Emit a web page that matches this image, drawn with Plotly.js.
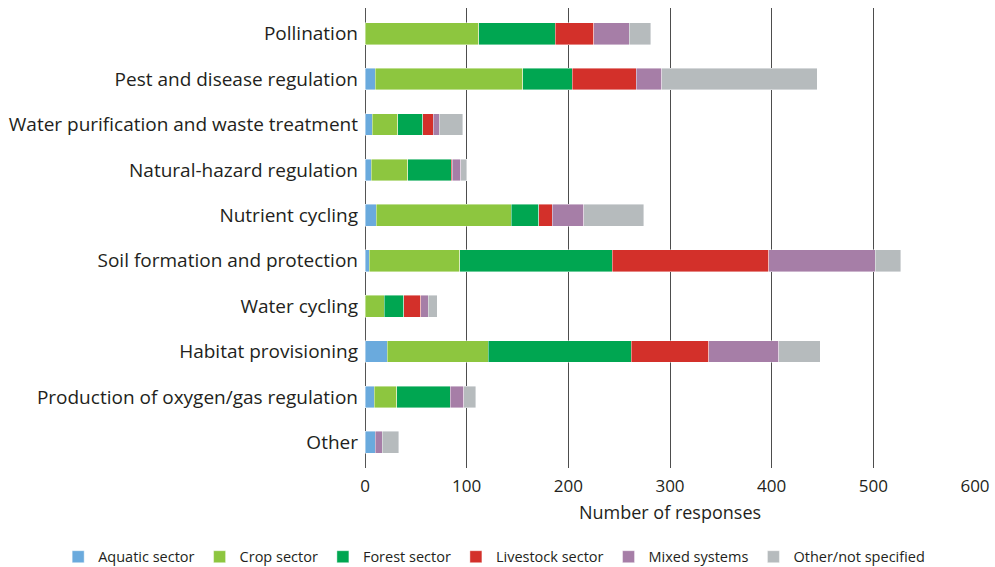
<!DOCTYPE html>
<html>
<head>
<meta charset="utf-8">
<script src="https://cdn.plot.ly/plotly-3.0.1.min.js"></script>
<style>html,body{margin:0;padding:0;background:#fff;}#chart{width:995px;height:567px;}</style>
</head>
<body>
<div id="chart"></div>
<script>
const categories = [
  "Pollination",
  "Pest and disease regulation",
  "Water purification and waste treatment",
  "Natural-hazard regulation",
  "Nutrient cycling",
  "Soil formation and protection",
  "Water cycling",
  "Habitat provisioning",
  "Production of oxygen/gas regulation",
  "Other"
];
const seriesNames = ["Aquatic sector","Crop sector","Forest sector","Livestock sector","Mixed systems","Other/not specified"];
const aquatic   = [0, 10, 7, 6, 11, 4, 0, 22, 9, 10];
const crop      = [112, 145, 25, 36, 133, 89, 19, 99, 22, 0];
const forest    = [75, 49, 25, 43, 27, 150, 19, 141, 53, 0];
const livestock = [38, 63, 10, 1, 13, 154, 17, 76, 0, 0];
const mixed     = [35, 25, 6, 8, 31, 105, 7, 69, 13, 7];
const otherNS   = [21, 153, 23, 6, 59, 25, 9, 41, 12, 16];
const xTicks = [0, 100, 200, 300, 400, 500, 600];

const colors = ["#6aaadd", "#8dc63f", "#00a651", "#d3302a", "#a67ea7", "#b6bbbd"];
const values = [aquatic, crop, forest, livestock, mixed, otherNS];

const traces = values.map((v, i) => ({
  type: 'bar',
  orientation: 'h',
  name: seriesNames[i],
  y: categories,
  x: v,
  marker: {color: colors[i], line: {color: 'rgba(255,255,255,0.7)', width: 0.6}},
  hoverinfo: 'x+name'
}));

const font = "'Open Sans', 'Noto Sans', sans-serif";
const layout = {
  width: 995, height: 567,
  margin: {l: 365, r: 20, t: 8, b: 99, autoexpand: false},
  barmode: 'stack',
  bargap: 0.52,
  paper_bgcolor: '#fff', plot_bgcolor: '#fff',
  font: {family: font, color: '#231f20', size: 16},
  xaxis: {
    range: [0, 600],
    tickvals: xTicks,
    ticktext: xTicks.map(String),
    showgrid: true, gridcolor: '#4d4d4d', gridwidth: 1,
    zeroline: true, zerolinecolor: '#555', zerolinewidth: 1,
    showline: false,
    ticks: '',
    ticklabelstandoff: 6,
    tickfont: {size: 17, family: font, color: '#231f20'},
    title: {text: 'Number of responses', font: {size: 18, family: font, color: '#231f20'}, standoff: 10},
    fixedrange: true
  },
  yaxis: {
    type: 'category',
    categoryorder: 'array',
    categoryarray: categories,
    range: [9.566, -0.566],
    showgrid: false, zeroline: false, showline: false,
    ticks: '',
    ticklabelstandoff: 6,
    tickfont: {size: 19, family: font, color: '#231f20'},
    fixedrange: true
  },
  showlegend: true,
  legend: {
    orientation: 'h',
    xref: 'paper', yref: 'paper',
    x: -0.503, xanchor: 'left',
    y: -0.193, yanchor: 'middle',
    font: {size: 14.5, family: font, color: '#231f20'},
    traceorder: 'normal',
    itemwidth: 30
  }
};

Plotly.newPlot('chart', traces, layout, {displayModeBar: false, staticPlot: true});
</script>
</body>
</html>
